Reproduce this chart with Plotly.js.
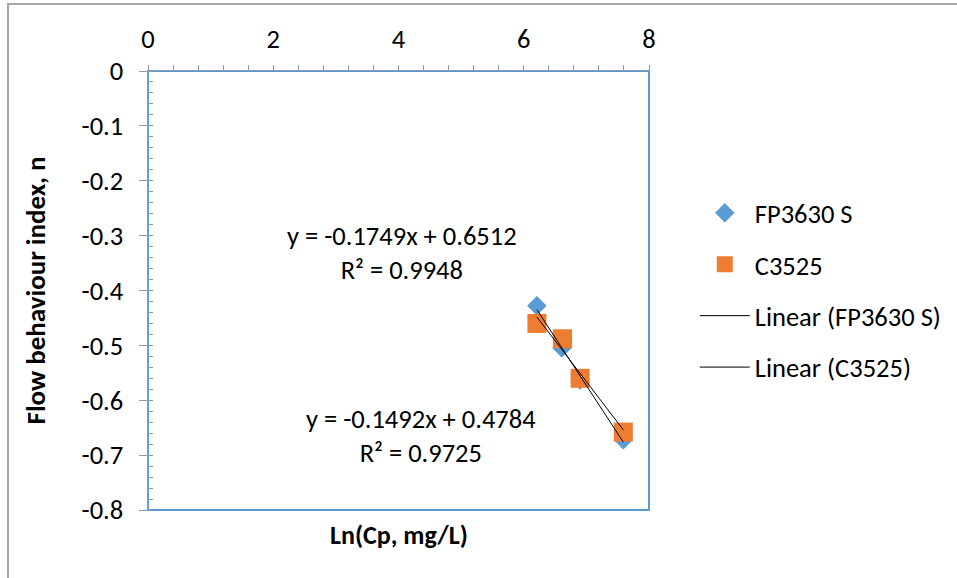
<!DOCTYPE html>
<html>
<head>
<meta charset="utf-8">
<script src="https://cdn.plot.ly/plotly-3.0.1.min.js"></script>
<style>
  html, body { margin: 0; padding: 0; background: #ffffff; }
  #wrap { position: relative; width: 957px; height: 578px; overflow: hidden; }
  #frame { position: absolute; left: 7px; top: 3px; width: 960px; height: 590px;
           border-left: 2px solid #a6a6a6; border-top: 2px solid #a6a6a6; pointer-events: none; }
  #chart { position: absolute; left: 0; top: 0; width: 957px; height: 578px; }
</style>
</head>
<body>
<div id="wrap">
  <div id="chart"></div>
  <div id="frame"></div>
</div>
<script>
// ---- data ----
const fpName = "FP3630 S";
const fpX = [6.21, 6.61, 6.90, 7.59];
const fpY = [-0.428, -0.505, -0.563, -0.672];

const cName = "C3525";
const cX = [6.21, 6.62, 6.90, 7.59];
const cY = [-0.460, -0.488, -0.560, -0.658];

// trendline equations shown in the chart
const slopes = [-0.1749, -0.1492];
const intercepts = [0.6512, 0.4784];
const eqTexts = ["y = -0.1749x + 0.6512<br>R² = 0.9948", "y = -0.1492x + 0.4784<br>R² = 0.9725"];

// axis ticks
const xTickVals = [0, 2, 4, 6, 8];
const yTickVals = [0, -0.1, -0.2, -0.3, -0.4, -0.5, -0.6, -0.7, -0.8];
const yTickText = ["0", "-0.1", "-0.2", "-0.3", "-0.4", "-0.5", "-0.6", "-0.7", "-0.8"];

const FONT = "Carlito, Calibri, Lato, 'Open Sans', sans-serif";
const FS = 26.5;
const AX = "#8c9bad";

function trend(xs, i) {
  const x0 = Math.min(...xs), x1 = Math.max(...xs);
  return { x: [x0, x1], y: [slopes[i] * x0 + intercepts[i], slopes[i] * x1 + intercepts[i]] };
}
const t1 = trend(fpX, 0), t2 = trend(cX, 1);

const traces = [
  { type: "scatter", mode: "markers", name: fpName, x: fpX, y: fpY, legendgroup: "a",
    marker: { symbol: "diamond", size: 15, color: "#5b9bd5" } },
  { type: "scatter", mode: "markers", name: cName, x: cX, y: cY, legendgroup: "b",
    marker: { symbol: "square", size: 19, color: "#ed7d31" } },
  { type: "scatter", mode: "lines", name: "Linear (" + fpName + ")", x: t1.x, y: t1.y, legendgroup: "c",
    line: { color: "#000000", width: 1 } },
  { type: "scatter", mode: "lines", name: "Linear (" + cName + ")", x: t2.x, y: t2.y, legendgroup: "d",
    line: { color: "#000000", width: 1 } }
];

const layout = {
  width: 957, height: 578,
  margin: { l: 148, r: 308, t: 71, b: 68, autoexpand: false },
  paper_bgcolor: "rgba(0,0,0,0)", plot_bgcolor: "#ffffff",
  font: { family: FONT, size: FS, color: "#000000" },
  showlegend: true,
  legend: { xref: "container", yref: "container", x: 0.726, y: 0.673, xanchor: "left", yanchor: "top",
            tracegroupgap: 14, itemwidth: 50,
            font: { family: FONT, size: FS }, bgcolor: "rgba(0,0,0,0)" },
  xaxis: { range: [0, 8], side: "top", tickvals: xTickVals, ticks: "outside", ticklen: 5, tickcolor: AX,
           showline: true, linecolor: AX, linewidth: 1.5, showgrid: false, zeroline: false,
           ticklabelstandoff: 6, automargin: false,
           minor: { dtick: 0.4, ticks: "outside", ticklen: 5, tickcolor: AX, showgrid: false },
           tickfont: { family: FONT, size: FS } },
  xaxis2: { range: [0, 8], overlaying: "x", anchor: "y", side: "top", tickvals: xTickVals, ticks: "inside",
            ticklen: 7, tickcolor: AX, showticklabels: false, showline: false, showgrid: false, zeroline: false },
  yaxis: { range: [-0.8, 0], tickvals: yTickVals, ticktext: yTickText, ticks: "outside", ticklen: 8, tickcolor: AX,
           showline: true, linecolor: AX, linewidth: 1.5, showgrid: false, zeroline: false,
           ticklabelstandoff: 10, automargin: false,
           minor: { dtick: 0.02, ticks: "inside", ticklen: 5, tickcolor: AX, showgrid: false },
           tickfont: { family: FONT, size: FS } },
  yaxis2: { range: [-0.8, 0], overlaying: "y", anchor: "x", side: "left", tickvals: yTickVals, ticks: "inside",
            ticklen: 6, tickcolor: AX, showticklabels: false, showline: false, showgrid: false, zeroline: false },
  shapes: [
    { type: "rect", xref: "paper", yref: "paper", x0: 0, x1: 1, y0: 0, y1: 1, layer: "below",
      line: { color: "#5b9bd5", width: 2 } }
  ],
  annotations: [
    { text: eqTexts[0], x: 4.06, y: -0.332, xref: "x", yref: "y", showarrow: false,
      font: { family: FONT, size: FS }, align: "center" },
    { text: eqTexts[1], x: 4.36, y: -0.665, xref: "x", yref: "y", showarrow: false,
      font: { family: FONT, size: FS }, align: "center" },
    { text: "<b>Ln(Cp, mg/L)</b>", x: 0.5, y: -0.057, xref: "paper", yref: "paper", showarrow: false,
      xanchor: "center", yanchor: "middle", font: { family: FONT, size: 26 } },
    { text: "<b>Flow behaviour index, n</b>", x: -0.2236, y: 0.5, xref: "paper", yref: "paper", showarrow: false,
      xanchor: "center", yanchor: "middle", textangle: -90, font: { family: FONT, size: 27 } }
  ]
};

Plotly.newPlot("chart", traces, layout, { displayModeBar: false, staticPlot: true });
</script>
</body>
</html>
